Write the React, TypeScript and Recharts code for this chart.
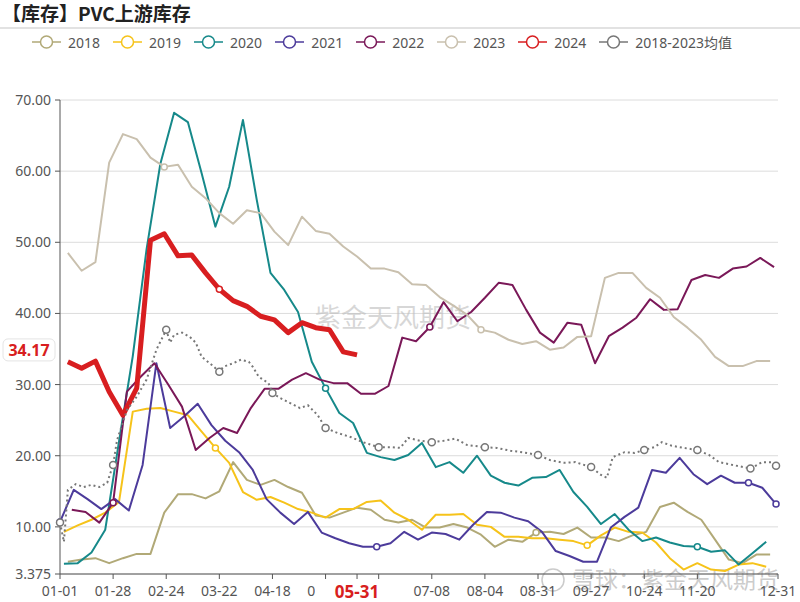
import React from 'react'
import { LineChart, Line, XAxis, YAxis, CartesianGrid, ReferenceLine } from 'recharts'

// weekly inventory (万吨), each year starts on its own first report day
const v2018 = [5.1, 5.4, 5.6, 4.9, 5.6, 6.2, 6.2, 12.0, 14.6, 14.6, 14.0, 15.0, 19.1, 16.6, 15.9, 16.6, 15.6, 14.8, 11.6, 11.3, 12.0, 12.7, 12.4, 11.0, 10.6, 11.0, 9.9, 9.9, 10.4, 9.9, 8.9, 7.2, 8.2, 7.9, 9.2, 9.3, 9.0, 9.9, 8.5, 8.5, 8.0, 8.8, 9.3, 12.8, 13.4, 12.1, 11.0, 8.2, 5.4, 4.9, 6.1, 6.1]
const v2019 = [9.3, 10.2, 11.0, 12.0, 13.5, 26.2, 26.6, 26.7, 26.2, 25.7, 23.4, 21.1, 19.0, 14.9, 13.8, 14.2, 13.4, 12.5, 12.0, 11.3, 12.5, 12.5, 13.5, 13.7, 12.0, 11.0, 9.6, 11.7, 11.7, 11.8, 10.3, 10.0, 8.6, 8.6, 8.4, 8.4, 8.2, 8.0, 7.4, 8.8, 9.9, 9.3, 9.2, 7.8, 5.6, 4.0, 4.9, 4.0, 3.8, 4.7, 4.9, 4.4]
const v2020 = [4.8, 4.9, 6.4, 9.6, 22.0, 34.0, 49.0, 61.0, 68.2, 66.9, 59.7, 52.2, 57.8, 67.2, 56.0, 45.7, 43.3, 40.2, 33.2, 29.5, 26.0, 24.6, 20.4, 19.8, 19.4, 20.1, 21.8, 18.4, 19.1, 17.6, 20.0, 17.2, 16.2, 15.8, 16.9, 17.0, 18.0, 14.9, 12.8, 10.4, 11.8, 9.6, 8.0, 8.5, 7.8, 7.3, 7.2, 6.5, 6.7, 4.7, 6.3, 7.9]
const v2021 = [10.7, 15.2, 13.9, 12.5, 13.9, 12.3, 18.7, 33.0, 23.9, 25.5, 27.3, 24.3, 22.1, 20.5, 18.0, 13.9, 12.0, 10.4, 12.1, 9.2, 8.4, 7.7, 7.2, 7.2, 7.7, 9.3, 8.2, 9.2, 9.0, 8.2, 10.3, 12.1, 12.0, 11.3, 10.8, 9.3, 6.6, 5.9, 5.1, 5.1, 9.9, 11.4, 12.7, 18.0, 17.6, 19.7, 17.4, 16.0, 17.2, 16.2, 16.2, 15.5, 13.2]
const v2022 = [12.4, 12.1, 10.6, 13.4, 29.0, 31.1, 33.0, 30.0, 26.9, 20.8, 22.5, 23.9, 23.2, 26.7, 29.4, 29.4, 30.7, 31.6, 30.7, 30.2, 30.2, 28.7, 28.7, 29.8, 36.6, 36.1, 38.1, 41.6, 38.9, 40.2, 42.2, 44.3, 44.0, 40.5, 37.3, 35.9, 38.7, 38.4, 33.0, 36.8, 38.0, 39.4, 42.0, 40.5, 40.6, 44.7, 45.4, 45.0, 46.3, 46.6, 47.8, 46.5]
const v2023 = [48.5, 46.0, 47.2, 61.2, 65.2, 64.5, 61.9, 60.6, 60.9, 57.8, 56.2, 54.1, 52.6, 54.5, 54.1, 51.5, 49.6, 53.6, 51.6, 51.2, 49.4, 48.0, 46.3, 46.3, 45.8, 44.1, 44.0, 42.3, 41.1, 39.8, 37.7, 37.3, 36.3, 35.7, 36.1, 34.9, 35.2, 36.7, 36.8, 45.0, 45.7, 45.7, 43.6, 42.2, 39.5, 38.0, 36.3, 33.9, 32.6, 32.6, 33.3, 33.3]
const v2024 = [33.2, 32.3, 33.3, 29.0, 25.7, 29.5, 50.3, 51.2, 48.1, 48.2, 45.7, 43.4, 41.8, 41.0, 39.6, 39.1, 37.3, 38.7, 38.0, 37.7, 34.6, 34.17]

// 2018-2023 average, sampled on its own days
const meanDays = [0, 2, 4, 8, 12, 16, 20, 24, 27, 29, 34, 39, 44, 49, 54, 56, 58, 62, 66, 69, 72, 77, 81, 83, 88, 92, 96, 98, 101, 106, 108, 112, 117, 122, 126, 131, 135, 141, 148, 154, 162, 169, 173, 177, 183, 189, 195, 201, 207, 216, 222, 229, 235, 243, 249, 256, 262, 270, 275, 278, 281, 287, 292, 297, 302, 306, 311, 317, 324, 330, 335, 342, 351, 357, 362, 364]
const meanValues = [10.6, 7.9, 15.2, 16.0, 15.6, 15.9, 15.6, 16.2, 18.7, 22.2, 26.4, 28.3, 30.7, 34.9, 37.7, 35.9, 37.0, 37.3, 36.7, 35.9, 33.9, 32.8, 31.8, 32.5, 33.0, 33.5, 33.2, 32.5, 31.1, 30.2, 28.8, 28.1, 27.4, 26.7, 27.1, 25.7, 23.9, 23.2, 22.6, 21.9, 21.2, 21.2, 21.1, 22.5, 22.1, 21.9, 22.1, 22.4, 21.5, 21.2, 21.1, 20.7, 20.5, 20.1, 19.4, 19.0, 19.1, 18.4, 17.3, 16.9, 19.8, 20.5, 20.4, 20.8, 21.2, 21.9, 21.4, 21.1, 20.8, 20.1, 19.1, 18.7, 18.2, 19.1, 19.1, 18.6]

const latestDay = 151
// the highlighted date goes last so its box is painted over the neighbouring labels
const tickDays = [0, 27, 54, 81, 108, 135, 162, 189, 216, 243, 270, 297, 324, 365, latestDay]
const yTicks = [3.375, 10, 20, 30, 40, 50, 60, 70]
const monthStart = [0, 31, 60, 91, 121, 152, 182, 213, 244, 274, 305, 335]

const weekly = (values: number[], start: number) => values.map((v, i) => ({ day: start + 7 * i, value: v }))

const series = [
  { name: '2018', color: '#b1a977', data: weekly(v2018, 4), width: 2, dots: [34] },
  { name: '2019', color: '#f6c31a', data: weekly(v2019, 2), width: 2, dots: [11, 38] },
  { name: '2020', color: '#16898a', data: weekly(v2020, 2), width: 2, dots: [19, 46] },
  { name: '2021', color: '#4c3b9b', data: weekly(v2021, 0), width: 2, dots: [0, 23, 50, 52] },
  { name: '2022', color: '#7a1858', data: weekly(v2022, 6), width: 2, dots: [3, 26] },
  { name: '2023', color: '#c9c0ae', data: weekly(v2023, 4), width: 2, dots: [7, 30] },
  { name: '2024', color: '#d81e20', data: weekly(v2024, 4), width: 5, dots: [11] },
]
const meanData = meanDays.map((d, i) => ({ day: d, value: meanValues[i] }))
const meanDots = [0, 8, 14, 22, 30, 36, 40, 45, 49, 53, 57, 63, 68, 72, 75]

const pad = (n: number) => (n < 10 ? '0' + n : '' + n)
function fmtDay(d: number) {
  let m = 11
  while (monthStart[m] > d) m--
  return pad(m + 1) + '-' + pad(d - monthStart[m] + 1)
}

const font = '"Noto Sans", "Noto Sans CJK SC", sans-serif'
const red = '#d81e20'

const makeDot = (color: string, idx: number[], r: number) => (p: any) =>
  idx.includes(p.index) ? (
    <circle key={p.index} cx={p.cx} cy={p.cy} r={r} fill="#fff" stroke={color} strokeWidth={1.5} />
  ) : (
    <g key={p.index} />
  )

const lastValue = v2024[v2024.length - 1]

function YValueLabel(props: any) {
  const { viewBox } = props
  const x = viewBox.x - 57
  const y = viewBox.y - 5
  return (
    <g>
      <rect x={x} y={y - 11} width={52} height={22} rx={5} fill="#fff" stroke="#e4e4e4" />
      <text x={x + 26} y={y + 6} textAnchor="middle" fontSize={16} fontWeight={700} fill={red} fontFamily={font}>
        {lastValue.toFixed(2)}
      </text>
    </g>
  )
}

function XTick(props: any) {
  const { x, y, payload } = props
  if (payload.value === latestDay) {
    return (
      <g>
        <rect x={x - 42} y={y - 6} width={82} height={26} fill="#fff" />
        <text x={x} y={y + 12} textAnchor="middle" fontSize={17} fontWeight={700} fill={red} fontFamily={font}>
          {fmtDay(payload.value)}
        </text>
      </g>
    )
  }
  return (
    <text x={x} y={y} dy="0.71em" textAnchor="middle" fontSize={14} fill="#555" fontFamily={font}>
      {fmtDay(payload.value)}
    </text>
  )
}

function Legend() {
  const items = [...series.map((s) => ({ name: s.name, color: s.color })), { name: '2018-2023均值', color: '#777' }]
  return (
    <div style={{ position: 'absolute', top: 32, left: 32, display: 'flex', gap: 13, fontFamily: font, fontSize: 14, color: '#555' }}>
      {items.map((it) => (
        <div key={it.name} style={{ display: 'flex', alignItems: 'center', gap: 7, height: 20 }}>
          <svg width={29} height={14}>
            <line x1={0} y1={7} x2={29} y2={7} stroke={it.color} strokeWidth={1.5} />
            <circle cx={14.5} cy={7} r={6} fill="#fff" stroke={it.color} strokeWidth={1.5} />
          </svg>
          <span>{it.name}</span>
        </div>
      ))}
    </div>
  )
}

export default function App() {
  return (
    <div style={{ position: 'absolute', left: 0, top: 0, width: 800, height: 602, background: '#fff', overflow: 'hidden' }}>
      <div style={{ position: 'absolute', left: 2, top: 0, fontFamily: '"Noto Sans CJK SC", serif', fontWeight: 700, fontSize: 19, color: '#222', lineHeight: '25px' }}>
        【库存】PVC上游库存
      </div>
      <div style={{ position: 'absolute', left: 0, top: 27, width: 800, height: 2, background: '#e2e2e2' }} />
      <Legend />
      <LineChart width={800} height={602} margin={{ top: 100, right: 22, bottom: 0, left: 0 }}>
        <CartesianGrid vertical={false} stroke="#dcdcdc" />
        <XAxis
          dataKey="day"
          type="number"
          domain={[0, 365]}
          ticks={tickDays}
          height={28}
          interval={0}
          stroke="#555"
          tickSize={5}
          tickMargin={7}
          tick={<XTick />}
        />
        <YAxis
          type="number"
          domain={[3.375, 70]}
          ticks={yTicks}
          tickFormatter={(v: number) => (v === 3.375 ? '3.375' : v.toFixed(2))}
          width={60}
          interval={0}
          stroke="#555"
          tickSize={5}
          tickMargin={4}
          tick={{ fontSize: 14, fill: '#555', fontFamily: font }}
        />
        <text x={315} y={327} fontSize={26} fill="#bdbdbd" fillOpacity={0.6} fontFamily={font}>紫金天风期货</text>
        <text x={572} y={588} fontSize={23} fill="#b5b5b5" fillOpacity={0.7} fontFamily={font}>雪球：紫金天风期货</text>
        <circle cx={553} cy={580} r={11} fill="none" stroke="#b5b5b5" strokeOpacity={0.7} strokeWidth={1.5} />
        {series.map((s) => (
          <Line
            key={s.name}
            data={s.data}
            dataKey="value"
            name={s.name}
            type="linear"
            stroke={s.color}
            strokeWidth={s.width}
            strokeLinejoin="round"
            dot={makeDot(s.color, s.dots, 3)}
            activeDot={false}
            isAnimationActive={false}
          />
        ))}
        <Line
          data={meanData}
          dataKey="value"
          name="2018-2023均值"
          type="linear"
          stroke="#777"
          strokeWidth={2}
          strokeDasharray="2 3"
          dot={makeDot('#777', meanDots, 3.5)}
          activeDot={false}
          isAnimationActive={false}
        />
        <ReferenceLine y={lastValue} stroke="none" label={<YValueLabel />} />
      </LineChart>
    </div>
  )
}
